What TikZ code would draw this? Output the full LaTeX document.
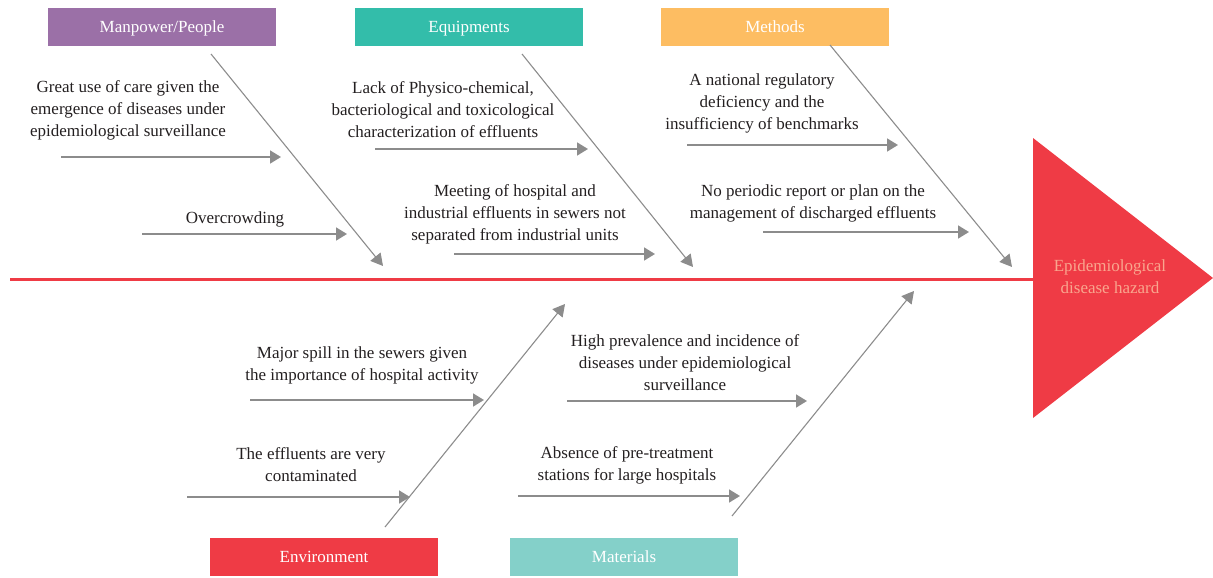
\documentclass[tikz,border=0pt]{standalone}
\usepackage{fontspec}
\setmainfont{Liberation Serif}
\usetikzlibrary{arrows.meta}
\definecolor{cPurple}{HTML}{9B70A7}
\definecolor{cTeal}{HTML}{33BDAA}
\definecolor{cOrange}{HTML}{FDBD62}
\definecolor{cRed}{HTML}{EF3B45}
\definecolor{cLTeal}{HTML}{84D0C9}
\definecolor{cGray}{HTML}{8C8C8C}
\definecolor{cSalmon}{HTML}{F9A68E}
\definecolor{cText}{HTML}{231F20}
\tikzset{
  catbox/.style={minimum width=228pt, minimum height=38pt, inner sep=0pt, text=white, text height=11pt, text depth=0pt, font=\fontsize{17}{20}\selectfont},
  causetext/.style={align=center, text=cText, font=\fontsize{17}{22}\selectfont, inner sep=0pt},
  bone/.style={draw=cGray, line width=1.1pt, -{Triangle[length=12pt,width=13pt]}},
  rib/.style={draw=cGray, line width=1.7pt, -{Triangle[length=11pt,width=13pt]}},
}
\begin{document}
\begin{tikzpicture}[x=1pt,y=-1pt]
\useasboundingbox (0,0) rectangle (1213,578);
% spine and head
\draw[cRed, line width=3pt] (10,279) -- (1040,279);
\fill[cRed] (1033,138) -- (1213,278) -- (1033,418) -- cycle;
\node[causetext, text=cSalmon] (head) at (1110,277) {Epidemiological\\disease hazard};
% category boxes
\node[catbox, fill=cPurple] (man) at (162,27) {Manpower/People};
\node[catbox, fill=cTeal] (equ) at (469,27) {Equipments};
\node[catbox, fill=cOrange] (met) at (775,27) {Methods};
\node[catbox, fill=cRed] (env) at (324,557) {Environment};
\node[catbox, fill=cLTeal] (mat) at (624,557) {Materials};
% bone endpoints
\coordinate (manS) at (211,54); \coordinate (manE) at (383,266);
\coordinate (equS) at (522,54); \coordinate (equE) at (693,267);
\coordinate (metS) at (830,45); \coordinate (metE) at (1012,267);
\coordinate (envS) at (385,527); \coordinate (envE) at (565,304);
\coordinate (matS) at (732,516); \coordinate (matE) at (914,291);
\draw[bone] (manS) -- (manE);
\draw[bone] (equS) -- (equE);
\draw[bone] (metS) -- (metE);
\draw[bone] (envS) -- (envE);
\draw[bone] (matS) -- (matE);
% cause texts
\node[causetext] (m1) at (128,110) {Great use of care given the\\emergence of diseases under\\epidemiological surveillance};
\node[causetext] (m2) at (235,219) {Overcrowding};
\node[causetext] (e1) at (443,110) {Lack of Physico-chemical,\\bacteriological and toxicological\\characterization of effluents};
\node[causetext] (e2) at (515,214) {Meeting of hospital and\\industrial effluents in sewers not\\separated from industrial units};
\node[causetext] (t1) at (762,103) {A national regulatory\\deficiency and the\\insufficiency of benchmarks};
\node[causetext] (t2) at (813,203) {No periodic report or plan on the\\management of discharged effluents};
\node[causetext] (v1) at (362,365) {Major spill in the sewers given\\the importance of hospital activity};
\node[causetext] (v2) at (311,465) {The effluents are very\\contaminated};
\node[causetext] (a1) at (685,363) {High prevalence and incidence of\\diseases under epidemiological\\surveillance};
\node[causetext] (a2) at (627,465) {Absence of pre-treatment\\stations for large hospitals};
% rib arrows
\coordinate (m1S) at (61,157); \coordinate (m1E) at (281,157);
\coordinate (m2S) at (142,234); \coordinate (m2E) at (347,234);
\coordinate (e1S) at (375,149); \coordinate (e1E) at (588,149);
\coordinate (e2S) at (454,254); \coordinate (e2E) at (655,254);
\coordinate (t1S) at (687,145); \coordinate (t1E) at (898,145);
\coordinate (t2S) at (763,232); \coordinate (t2E) at (969,232);
\coordinate (v1S) at (250,400); \coordinate (v1E) at (484,400);
\coordinate (v2S) at (187,497); \coordinate (v2E) at (410,497);
\coordinate (a1S) at (567,401); \coordinate (a1E) at (807,401);
\coordinate (a2S) at (518,496); \coordinate (a2E) at (740,496);
\foreach \r in {m1,m2,e1,e2,t1,t2,v1,v2,a1,a2}{
  \draw[rib] (\r S) -- (\r E);
}
\end{tikzpicture}
\end{document}
